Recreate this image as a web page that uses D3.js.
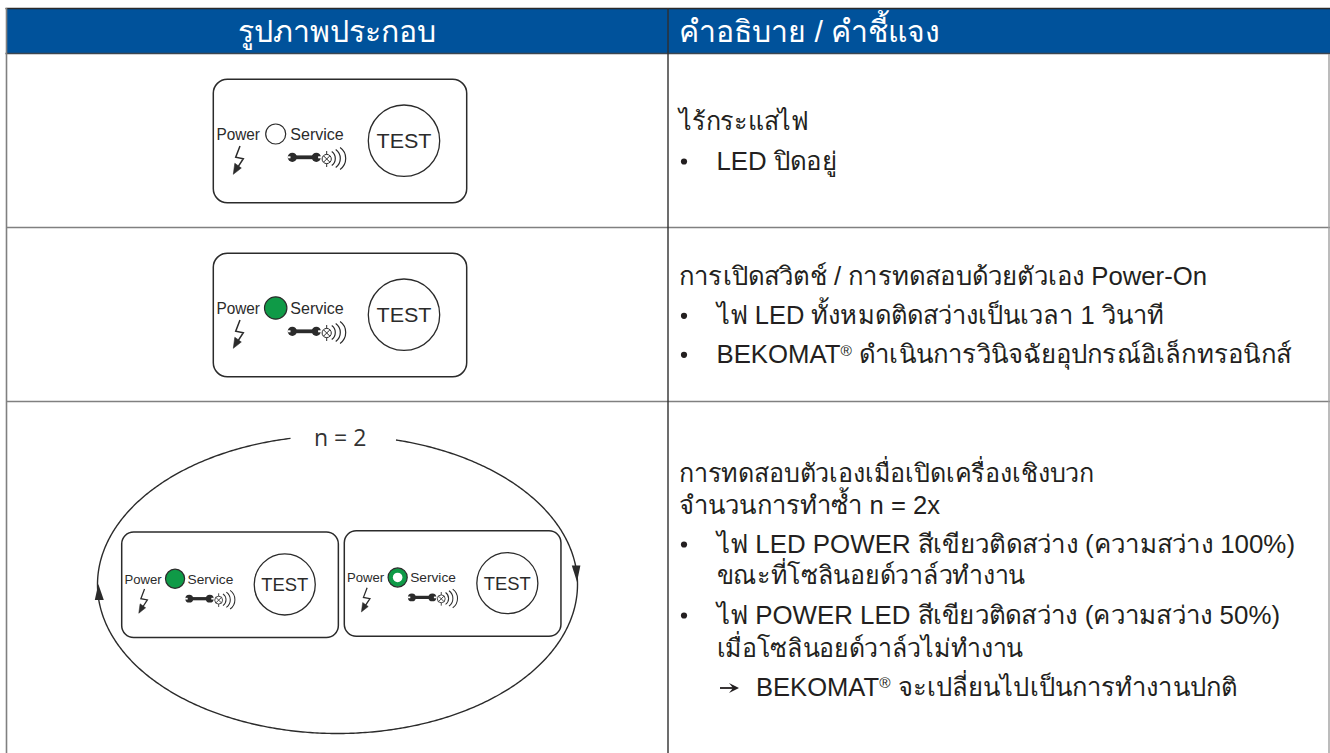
<!DOCTYPE html>
<html><head><meta charset="utf-8">
<script src="https://cdn.jsdelivr.net/npm/d3@7"></script>
<style>html,body{margin:0;padding:0;background:#fff;overflow:hidden}svg{display:block}</style></head>
<body><svg id="c" width="1330" height="753" font-family="'Liberation Sans'"></svg>
<script>
const headers = ["รูปภาพประกอบ","คำอธิบาย / คำชี้แจง"];
const row1Lines = ["ไร้กระแสไฟ","LED ปิดอยู่"];
const row2Lines = ["การเปิดสวิตช์ / การทดสอบด้วยตัวเอง Power-On","ไฟ LED ทั้งหมดติดสว่างเป็นเวลา 1 วินาที","BEKOMAT® ดำเนินการวินิจฉัยอุปกรณ์อิเล็กทรอนิกส์"];
const row3Lines = ["การทดสอบตัวเองเมื่อเปิดเครื่องเชิงบวก","จำนวนการทำซ้ำ n = 2x","ไฟ LED POWER สีเขียวติดสว่าง (ความสว่าง 100%)","ขณะที่โซลินอยด์วาล์วทำงาน","ไฟ POWER LED สีเขียวติดสว่าง (ความสว่าง 50%)","เมื่อโซลินอยด์วาล์วไม่ทำงาน","BEKOMAT® จะเปลี่ยนไปเป็นการทำงานปกติ"];
const row1Kinds = ["plain","bullet"];
const row2Kinds = ["plain","bullet","bullet"];
const row3Kinds = ["plain","plain","bullet","cont","bullet","cont","arrow"];
const loopLabel = "n = 2";
const ledLabels = ["Power","Service","TEST"];
const ledStates = ["off","on","on","half"];

const svg = d3.select("#c");
const INK="#2b2b2b", BLUE="#00529b", GREEN="#0f9a47";

// table frame
const X0=6.5, XM=668, X1=1329;
svg.append("rect").attr("x",X0).attr("y",8.5).attr("width",X1-X0+1).attr("height",45).attr("fill",BLUE);
svg.append("line").attr("x1",X0-1).attr("x2",1330).attr("y1",8.5).attr("y2",8.5).attr("stroke","#2a2a2a").attr("stroke-width",1.5);
svg.append("line").attr("x1",X0-1).attr("x2",1330).attr("y1",53.5).attr("y2",53.5).attr("stroke","#3c4650").attr("stroke-width",1.5);
[227.5,401.5].forEach(y=>svg.append("line").attr("x1",X0).attr("x2",1330).attr("y1",y).attr("y2",y).attr("stroke","#808080").attr("stroke-width",1.6));
svg.append("line").attr("x1",X0).attr("x2",X0).attr("y1",8).attr("y2",753).attr("stroke","#808080").attr("stroke-width",1.6);
svg.append("line").attr("x1",X1).attr("x2",X1).attr("y1",54).attr("y2",753).attr("stroke","#a0a0a0").attr("stroke-width",1.4);
svg.append("line").attr("x1",XM).attr("x2",XM).attr("y1",8).attr("y2",753).attr("stroke","#2f2f2f").attr("stroke-width",1.4);

// header
svg.append("text").attr("x",336.5).attr("y",42).attr("text-anchor","middle").attr("fill","#fff").attr("font-size",30.2).text(headers[0]);
svg.append("text").attr("x",679).attr("y",42).attr("fill","#fff").attr("font-size",30.2).text(headers[1]);

// description text
function putLine(str,kind,base,end){
  const F=25.4;
  const x = kind==="plain"?679 : kind==="arrow"?756 : 716.5;
  const t = svg.append("text").attr("x",x).attr("y",base).attr("font-size",F).attr("fill","#231f20")
    .attr("textLength",end-x).attr("lengthAdjust","spacingAndGlyphs");
  const parts = str.split("®");
  parts.forEach((p,i)=>{
    if(i>0){
      t.append("tspan").attr("font-size",F*0.6).attr("dy",-F*0.3).text("®");
      t.append("tspan").attr("dy",F*0.3).text(p);
    } else t.append("tspan").text(p);
  });
  if(kind==="bullet") svg.append("circle").attr("cx",684).attr("cy",base-8.5).attr("r",3.1).attr("fill","#231f20");
  if(kind==="arrow"){
    svg.append("line").attr("x1",720).attr("x2",733).attr("y1",base-8).attr("y2",base-8).attr("stroke","#231f20").attr("stroke-width",1.8);
    svg.append("path").attr("d",d3.line()([[739,base-8],[729,base-13],[733,base-8],[729,base-3]])+"Z").attr("fill","#231f20");
  }
}
const row1Base=[130,170], row2Base=[285,324.3,363.3], row3Base=[481.7,514,553,584,624,657,696];
const row1End=[809,837], row2End=[1207,1164,1291], row3End=[1094,940,1295,1025,1280,1023,1237];
row1Lines.forEach((s,i)=>putLine(s,row1Kinds[i],row1Base[i],row1End[i]));
row2Lines.forEach((s,i)=>putLine(s,row2Kinds[i],row2Base[i],row2End[i]));
row3Lines.forEach((s,i)=>putLine(s,row3Kinds[i],row3Base[i],row3End[i]));

// device panel, local coordinates = top-left at 0,0, 253 x 123.5
function panel(tx,ty,k,state){
  const g=svg.append("g").attr("transform",`translate(${tx},${ty}) scale(${k})`);
  const sw=1.5/k;
  g.append("rect").attr("x",0).attr("y",0).attr("width",253.4).attr("height",123.4).attr("rx",14).attr("fill","#fff").attr("stroke",INK).attr("stroke-width",sw);
  const lx=62.4, ly=54.7;
  g.append("text").attr("x",3.2).attr("y",60.5).attr("font-size",16).attr("fill",INK).attr("textLength",43.5).attr("lengthAdjust","spacingAndGlyphs").text(ledLabels[0]);
  g.append("text").attr("x",77).attr("y",60.5).attr("font-size",16).attr("fill",INK).attr("textLength",53.5).attr("lengthAdjust","spacingAndGlyphs").text(ledLabels[1]);
  // LED
  if(state==="off") g.append("circle").attr("cx",lx).attr("cy",ly).attr("r",10).attr("fill","#fff").attr("stroke",INK).attr("stroke-width",1.2/k);
  if(state==="on") g.append("circle").attr("cx",lx).attr("cy",ly).attr("r",11.2).attr("fill",GREEN).attr("stroke",INK).attr("stroke-width",1.2/k);
  if(state==="half"){
    g.append("circle").attr("cx",lx).attr("cy",ly).attr("r",11.2).attr("fill",GREEN).attr("stroke",INK).attr("stroke-width",1.2/k);
    g.append("circle").attr("cx",lx).attr("cy",ly).attr("r",5.6).attr("fill","#fff");
  }
  // TEST
  g.append("circle").attr("cx",190.7).attr("cy",61.4).attr("r",35.7).attr("fill","#fff").attr("stroke",INK).attr("stroke-width",1.3/k);
  g.append("text").attr("x",163.2).attr("y",69).attr("font-size",20.5).attr("fill",INK).attr("textLength",55).attr("lengthAdjust","spacingAndGlyphs").text(ledLabels[2]);
  // lightning
  g.append("path").attr("d","M26.7,66.7 L22.4,78 L30,79.4 L24.4,88").attr("fill","none").attr("stroke",INK).attr("stroke-width",1.5);
  g.append("path").attr("d","M20,95 L21.5,84 L28,88.7Z").attr("fill",INK).attr("stroke",INK).attr("stroke-width",.6);
  // wrench
  g.append("line").attr("x1",77).attr("x2",105).attr("y1",78).attr("y2",78).attr("stroke",INK).attr("stroke-width",3.8);
  [[79,1],[103,-1]].forEach(([cx,dir])=>{
    g.append("circle").attr("cx",cx).attr("cy",78).attr("r",4.6).attr("fill",INK);
    g.append("rect").attr("x",dir>0?cx-4.8:cx+1.8).attr("y",77).attr("width",3).attr("height",2).attr("fill","#fff");
  });
  // lamp
  const cx=113.4, cy=79.7;
  g.append("circle").attr("cx",cx).attr("cy",cy).attr("r",4.6).attr("fill","#fff").attr("stroke",INK).attr("stroke-width",1);
  const d=3.2;
  g.append("path").attr("d",`M${cx-d},${cy-d}L${cx+d},${cy+d}M${cx-d},${cy+d}L${cx+d},${cy-d}M${cx},${cy-8}V${cy-4.6}M${cx},${cy+4.6}V${cy+8}`).attr("fill","none").attr("stroke",INK).attr("stroke-width",1);
  [[8.5,113.5],[11,116],[13.4,119]].forEach(([r,c])=>{
    const p=d3.path(); const a=0.95;
    p.arc(c,cy-0.5,r,-a,a);
    g.append("path").attr("d",p.toString()).attr("fill","none").attr("stroke",INK).attr("stroke-width",1.2);
  });
}
panel(213.3,79.3,1,ledStates[0]);
panel(213.3,253.3,1,ledStates[1]);
panel(121.7,532,0.855,ledStates[2]);
panel(344.3,530.7,0.855,ledStates[3]);

// loop
const cx=337.5, cy=584.5, rx=240, ry=149;
const ang=x=>Math.acos((x-cx)/rx);
const ell=(a)=>[cx+rx*Math.cos(a),cy-ry*Math.sin(a)];
const pts=d3.range(ang(396), -Math.PI*2+ang(291.7), -0.01).map(ell);
svg.append("path").attr("d",d3.line()(pts)).attr("fill","none").attr("stroke",INK).attr("stroke-width",1.4);
svg.append("path").attr("d","M98.3,584 L94.8,600 L103.8,600Z").attr("fill",INK);
svg.append("path").attr("d","M577,582 L571.8,565.6 L580.4,565.6Z").attr("fill",INK);
svg.append("text").attr("x",314).attr("y",446).attr("font-size",23).attr("fill","#333").style("font-family","'Open Sans'").text(loopLabel);
</script></body></html>
